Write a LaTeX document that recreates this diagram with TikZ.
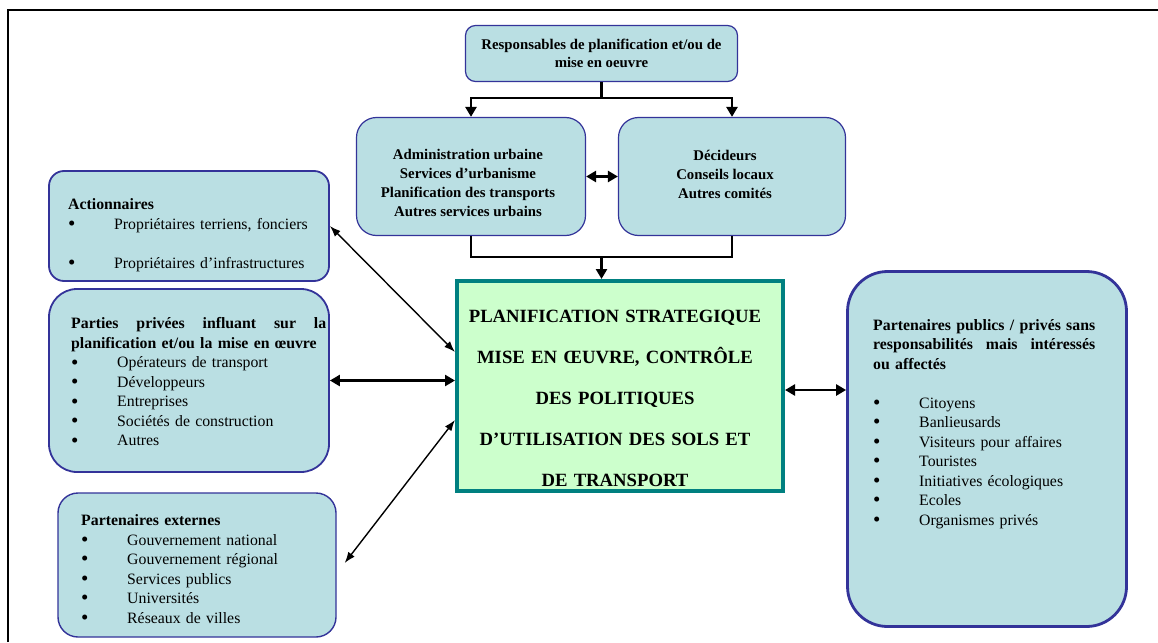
\documentclass[tikz,border=0pt]{standalone}
\usepackage{fontspec}
\setmainfont{Liberation Serif}
\usetikzlibrary{positioning,arrows.meta,calc}
\definecolor{cbox}{HTML}{BADFE3}
\definecolor{cedge}{HTML}{333399}
\definecolor{cplan}{HTML}{CCFFCC}
\definecolor{cteal}{HTML}{008080}
\newcommand{\bul}{\makebox[46pt][l]{\raisebox{-1.2pt}{\fontsize{21}{19.5}\selectfont\textbullet}}}
\tikzset{
  actor/.style={rectangle, draw=cedge, fill=cbox, line width=1.8pt},
  head/.style={actor, line width=1.2pt, rounded corners=20pt},
  planbox/.style={rectangle, draw=cteal, fill=cplan, line width=4pt},
  txt/.style={inner sep=0pt, font=\fontsize{15.8}{19.5}\selectfont},
  toptxt/.style={inner sep=0pt, align=center, font=\bfseries\fontsize{14.8}{18.7}\selectfont},
  list/.style={txt, align=left, anchor=west},
  tree/.style={line width=2.8pt},
  tip/.style={-{Triangle[length=10pt,width=11pt]}},
  dual/.style={line width=2.6pt, {Triangle[length=10pt,width=11pt]}-{Triangle[length=10pt,width=11pt]}},
  link/.style={line width=1.4pt, {Latex[length=11pt,width=8pt]}-{Latex[length=11pt,width=8pt]}}
}
\begin{document}
\begin{tikzpicture}[x=1pt, y=-1pt]
\useasboundingbox (0,0) rectangle (1158,642);
% frame
\draw[line width=1.2pt] (8,642) -- (8,10) -- (1158,10);

% top row
\node[head, rounded corners=10pt, minimum width=272pt, minimum height=56pt] (resp) at (601.5,53.5) {};
\node[toptxt] (resp-t) at (601.5,53.5) {Responsables de planification et/ou de\\mise en oeuvre};
\node[head, minimum width=229pt, minimum height=118pt] (admin) at (471,176.5) {};
\node[toptxt] (admin-t) at (468,183) {Administration urbaine\\Services d’urbanisme\\Planification des transports\\Autres services urbains};
\node[head, minimum width=227pt, minimum height=118pt] (deci) at (732,176.5) {};
\node[toptxt] (deci-t) at (725,174.5) {Décideurs\\Conseils locaux\\Autres comités};

% centre
\node[planbox, minimum width=326pt, minimum height=210pt] (plan) at (620,386) {};
\node[inner sep=0pt, font=\bfseries\fontsize{18.7}{41}\selectfont, align=center, text width=326pt] (plan-t) at (615,398.5) {PLANIFICATION STRATEGIQUE\\MISE EN ŒUVRE, CONTRÔLE\\DES POLITIQUES\\D’UTILISATION DES SOLS ET\\DE TRANSPORT};

% left column
\node[actor, rounded corners=15pt, minimum width=280pt, minimum height=110pt] (act) at (189,226) {};
\node[list, text width=250pt] (act-t) at (68,235) {\textbf{Actionnaires}\\
  \bul Propriétaires terriens, fonciers\\[19.5pt]
  \bul Propriétaires d’infrastructures};
\node[actor, rounded corners=28pt, minimum width=280pt, minimum height=183pt] (priv) at (189,380.5) {};
\node[list, text width=255pt] (priv-t) at (71,382.5) {\textbf{\makebox[255pt][l]{Parties\hfill privées\hfill influant\hfill sur\hfill la}}\\
  \textbf{planification et/ou la mise en œuvre}\\
  \bul Opérateurs de transport\\
  \bul Développeurs\\
  \bul Entreprises\\
  \bul Sociétés de construction\\
  \bul Autres};
\node[actor, line width=1.4pt, rounded corners=20pt, minimum width=278pt, minimum height=144pt] (ext) at (197,565) {};
\node[list, text width=240pt] (ext-t) at (81,569.5) {\textbf{Partenaires externes}\\
  \bul Gouvernement national\\
  \bul Gouvernement régional\\
  \bul Services publics\\
  \bul Universités\\
  \bul Réseaux de villes};

% right column
\node[actor, line width=2.8pt, rounded corners=40pt, minimum width=279pt, minimum height=355pt] (pub) at (987,449) {};
\node[list, text width=224pt] (pub-t) at (873,424) {\textbf{\makebox[222pt][l]{Partenaires\hfill publics\hfill /\hfill privés\hfill sans}}\\
  \textbf{\makebox[222pt][l]{responsabilités\hfill mais\hfill intéressés}}\\
  \textbf{ou affectés}\\[19.5pt]
  \bul Citoyens\\
  \bul Banlieusards\\
  \bul Visiteurs pour affaires\\
  \bul Touristes\\
  \bul Initiatives écologiques\\
  \bul Ecoles\\
  \bul Organismes privés};

% connectors
\coordinate (split) at (601.5,98);
\coordinate (join) at (601.5,257);
\draw[tree] (resp.south) -- (split);
\draw[tree, tip] (split) -| (admin.north);
\draw[tree, tip] (split) -| (deci.north);
\draw[dual] (admin) -- (deci);
\draw[tree] (admin.south) |- (join) -| (deci.south);
\draw[tree, tip] (join) -- (join |- plan.north);
\draw[link] (act.east) -- ($(plan.west)+(0,-34)$);
\draw[dual] (priv.east) -- (priv.east -| plan.west);
\draw[link] ($(ext.east)+(8,-2)$) -- ($(plan.west)+(0,34)$);
\coordinate (rp) at ($(plan.east)+(0,4)$);
\draw[dual] (rp) -- (rp -| pub.west);
\end{tikzpicture}
\end{document}
